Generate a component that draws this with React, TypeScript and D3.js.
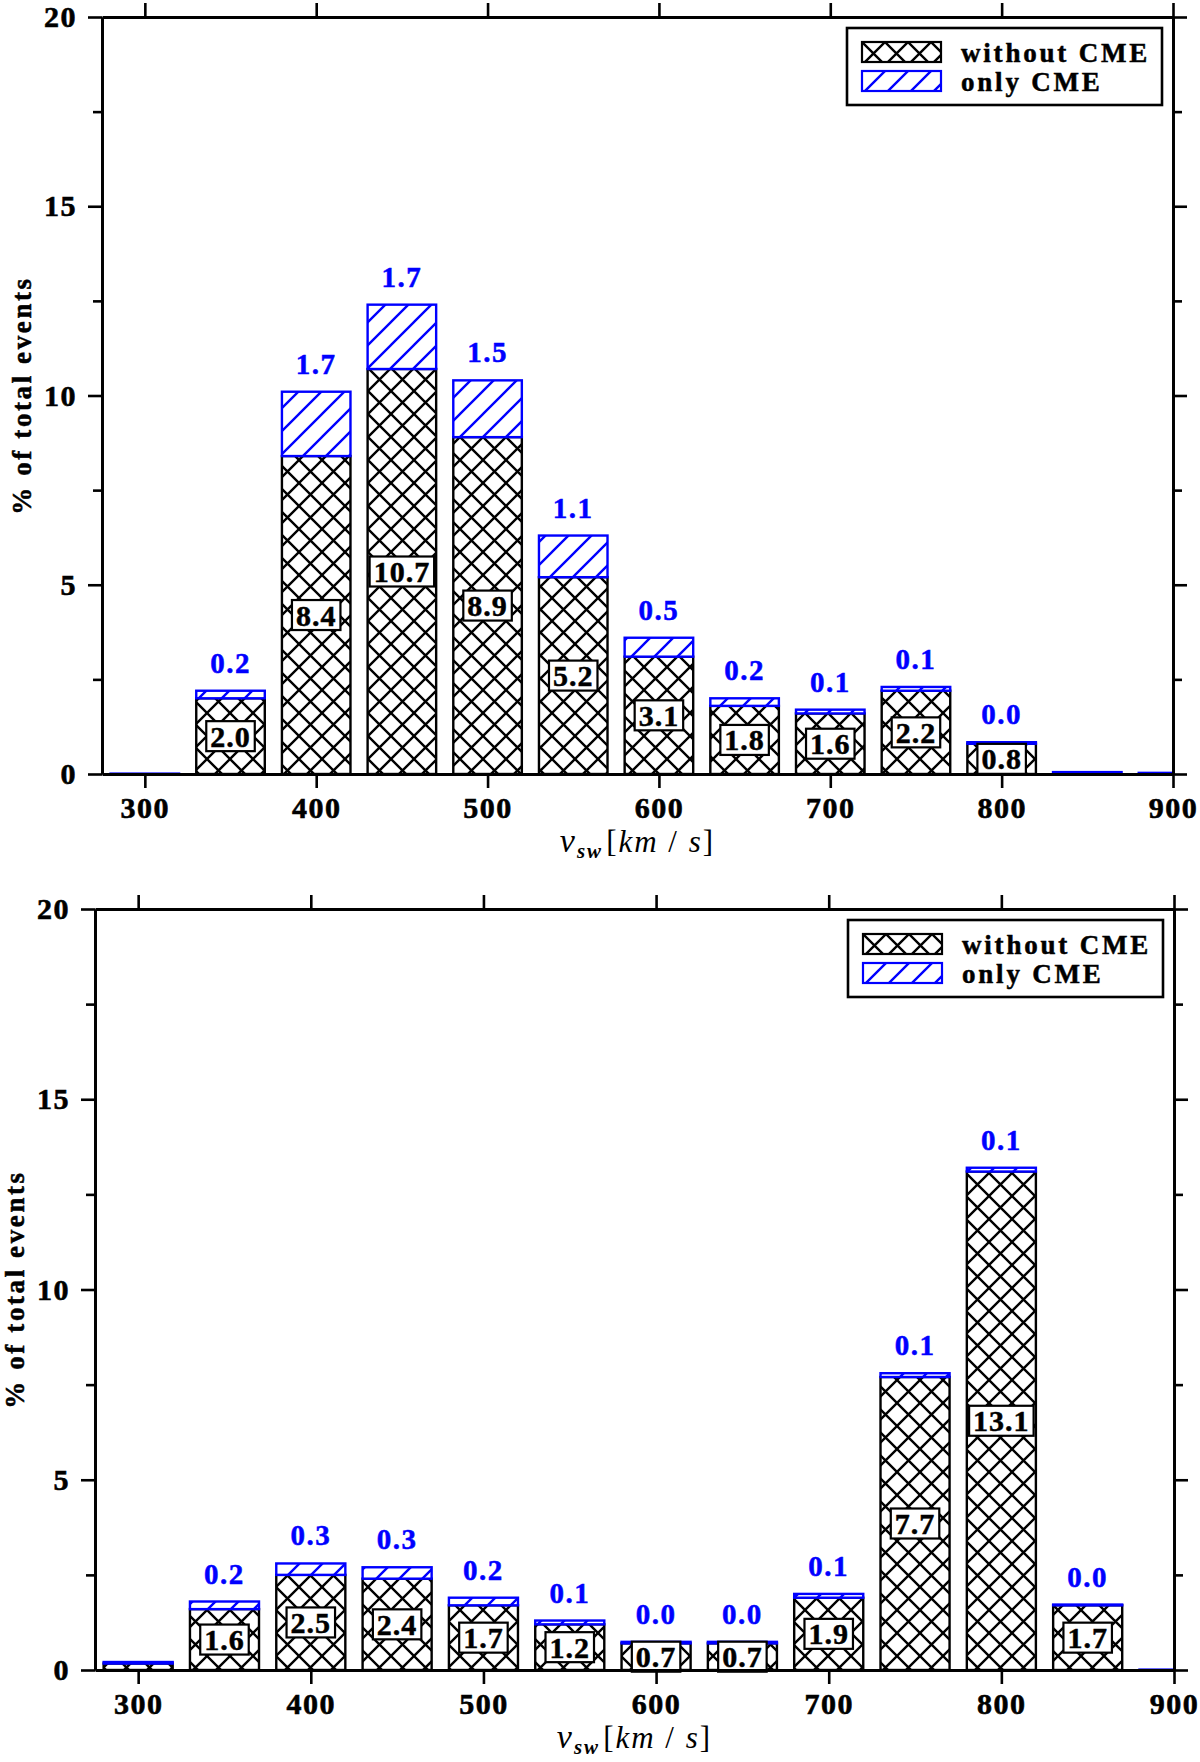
import React, { useRef, useEffect } from "react";
import * as d3 from "d3";

// bin centres of the solar wind speed histogram (km/s), bins are 50 wide, bars 40 wide
const binCenters = [300, 350, 400, 450, 500, 550, 600, 650, 700, 750, 800, 850, 900];

// upper panel (% of total events)
const upperWithoutCme = [0, 2.0, 8.4, 10.7, 8.9, 5.2, 3.1, 1.8, 1.6, 2.2, 0.8, 0, 0];
const upperOnlyCme = [0.01, 0.2, 1.7, 1.7, 1.5, 1.1, 0.5, 0.2, 0.1, 0.1, 0.04, 0.05, 0.03];

// lower panel (% of total events)
const lowerWithoutCme = [0.17, 1.6, 2.5, 2.4, 1.7, 1.2, 0.7, 0.7, 1.9, 7.7, 13.1, 1.7, 0];
const lowerOnlyCme = [0.04, 0.2, 0.3, 0.3, 0.2, 0.1, 0.04, 0.04, 0.1, 0.1, 0.1, 0.02, 0.01];

const xTicks = [300, 400, 500, 600, 700, 800, 900];
const yMajorTicks = [0, 5, 10, 15, 20];
const yMinorTicks = [2.5, 7.5, 12.5, 17.5];
const legendLabels = ["without CME", "only CME"];

const FONT = "'Liberation Serif', 'Times New Roman', serif";
const BLUE = "#0000ff";

const panels = [
  { id: "upper", without: upperWithoutCme, only: upperOnlyCme, frame: { left: 102, right: 1173, top: 17, bottom: 774 } },
  { id: "lower", without: lowerWithoutCme, only: lowerOnlyCme, frame: { left: 95, right: 1174, top: 909, bottom: 1670 } },
];

export default function App() {
  const svgRef = useRef(null);

  useEffect(() => {
    document.body.style.margin = "0";
    const svg = d3.select(svgRef.current);
    svg.selectAll("*").remove();

    // hatch patterns
    const defs = svg.append("defs");
    const cs = 23;
    const cross = defs
      .append("pattern")
      .attr("id", "crossHatch")
      .attr("patternUnits", "userSpaceOnUse")
      .attr("width", cs)
      .attr("height", cs);
    cross.append("rect").attr("width", cs).attr("height", cs).attr("fill", "#fff");
    cross
      .append("path")
      .attr("d", `M0,0L${cs},${cs}M${cs},0L0,${cs}`)
      .attr("stroke", "#000")
      .attr("stroke-width", 2.4);

    const ds = 23;
    const diag = defs
      .append("pattern")
      .attr("id", "diagHatch")
      .attr("patternUnits", "userSpaceOnUse")
      .attr("width", ds)
      .attr("height", ds);
    diag.append("rect").attr("width", ds).attr("height", ds).attr("fill", "#fff");
    diag
      .append("path")
      .attr(
        "d",
        `M0,${ds}L${ds},0M${-ds / 4},${ds / 4}L${ds / 4},${-ds / 4}M${(3 * ds) / 4},${(5 * ds) / 4}L${(5 * ds) / 4},${(3 * ds) / 4}`
      )
      .attr("stroke", BLUE)
      .attr("stroke-width", 2.4);

    panels.forEach((p) => {
      const f = p.frame;
      const x = d3.scaleLinear().domain([275, 900]).range([f.left, f.right]);
      const y = d3.scaleLinear().domain([0, 20]).range([f.bottom, f.top]);

      const clipId = `clip-${p.id}`;
      defs
        .append("clipPath")
        .attr("id", clipId)
        .append("rect")
        .attr("x", f.left)
        .attr("y", f.top)
        .attr("width", f.right - f.left)
        .attr("height", f.bottom - f.top);

      const g = svg.append("g");
      const bars = g.append("g").attr("clip-path", `url(#${clipId})`);

      binCenters.forEach((c, i) => {
        const w = p.without[i];
        const o = p.only[i];
        const x0 = x(c - 20);
        const x1 = x(c + 20);
        if (w > 0) {
          bars
            .append("rect")
            .attr("x", x0)
            .attr("y", y(w))
            .attr("width", x1 - x0)
            .attr("height", y(0) - y(w))
            .attr("fill", "url(#crossHatch)")
            .attr("stroke", "#000")
            .attr("stroke-width", 2.4);
        }
        bars
          .append("rect")
          .attr("x", x0)
          .attr("y", y(w + o))
          .attr("width", x1 - x0)
          .attr("height", y(w) - y(w + o))
          .attr("fill", "url(#diagHatch)")
          .attr("stroke", BLUE)
          .attr("stroke-width", 2.4);
      });

      // value labels
      binCenters.forEach((c, i) => {
        const w = p.without[i];
        const o = p.only[i];
        if (w < 0.5) return;
        const lg = g.append("g");
        const t = lg
          .append("text")
          .attr("x", x(c))
          .attr("y", y(w / 2))
          .attr("dy", "0.35em")
          .attr("text-anchor", "middle")
          .attr("font-family", FONT)
          .attr("font-weight", "bold")
          .attr("font-size", 30)
          .attr("letter-spacing", 1)
          .attr("fill", "#000")
          .attr("stroke", "#000")
          .attr("stroke-width", 0.5)
          .text(w.toFixed(1));
        const bb = (t.node() as SVGTextElement).getBBox();
        lg.insert("rect", "text")
          .attr("x", x(c) - bb.width / 2 - 4)
          .attr("y", y(w / 2) - 15)
          .attr("width", bb.width + 8)
          .attr("height", 30)
          .attr("fill", "#fff")
          .attr("stroke", "#000")
          .attr("stroke-width", 2.2);

        g.append("text")
          .attr("x", x(c))
          .attr("y", y(w + o) - 18)
          .attr("text-anchor", "middle")
          .attr("font-family", FONT)
          .attr("font-weight", "bold")
          .attr("font-size", 29)
          .attr("letter-spacing", 1.5)
          .attr("fill", BLUE)
          .attr("stroke", BLUE)
          .attr("stroke-width", 0.5)
          .text(o.toFixed(1));
      });

      // axes
      const styleAxis = (sel) => {
        sel.select(".domain").attr("stroke", "#000").attr("stroke-width", 2.8);
        sel.selectAll(".tick line").attr("stroke", "#000").attr("stroke-width", 2.6);
        sel
          .selectAll(".tick text")
          .attr("fill", "#000")
          .attr("stroke", "#000")
          .attr("stroke-width", 0.6)
          .attr("font-family", FONT)
          .attr("font-weight", "bold")
          .attr("font-size", 30)
          .attr("letter-spacing", 1.5);
      };

      g.append("g")
        .attr("transform", `translate(0,${f.bottom})`)
        .call(d3.axisBottom(x).tickValues(xTicks).tickSize(14).tickSizeOuter(0).tickPadding(9).tickFormat(d3.format("d")))
        .call(styleAxis);
      g.append("g")
        .attr("transform", `translate(0,${f.top})`)
        .call(d3.axisTop(x).tickValues(xTicks).tickSize(14).tickSizeOuter(0).tickFormat(() => ""))
        .call(styleAxis);
      g.append("g")
        .attr("transform", `translate(${f.left},0)`)
        .call(d3.axisLeft(y).tickValues(yMajorTicks).tickSize(14).tickSizeOuter(0).tickPadding(11).tickFormat(d3.format("d")))
        .call(styleAxis);
      g.append("g")
        .attr("transform", `translate(${f.left},0)`)
        .call(d3.axisLeft(y).tickValues(yMinorTicks).tickSize(9).tickSizeOuter(0).tickFormat(() => ""))
        .call(styleAxis);
      g.append("g")
        .attr("transform", `translate(${f.right},0)`)
        .call(d3.axisRight(y).tickValues(yMajorTicks).tickSize(14).tickSizeOuter(0).tickFormat(() => ""))
        .call(styleAxis);
      g.append("g")
        .attr("transform", `translate(${f.right},0)`)
        .call(d3.axisRight(y).tickValues(yMinorTicks).tickSize(9).tickSizeOuter(0).tickFormat(() => ""))
        .call(styleAxis);

      // y axis title
      g.append("text")
        .attr("transform", `translate(${f.left - 80},${(f.top + f.bottom) / 2}) rotate(-90)`)
        .attr("text-anchor", "middle")
        .attr("dy", "0.35em")
        .attr("font-family", FONT)
        .attr("font-weight", "bold")
        .attr("font-size", 27)
        .attr("letter-spacing", 2.6)
        .attr("stroke", "#000")
        .attr("stroke-width", 0.5)
        .text("% of total events");

      // x axis title  v_sw [km / s]
      const xt = g
        .append("text")
        .attr("x", (f.left + f.right) / 2)
        .attr("y", f.bottom + 78)
        .attr("text-anchor", "middle")
        .attr("font-family", FONT)
        .attr("font-size", 31)
        .attr("letter-spacing", 2);
      xt.append("tspan").attr("font-style", "italic").attr("font-size", 34).text("v");
      xt.append("tspan").attr("font-style", "italic").attr("font-size", 21).attr("font-weight", "bold").attr("dy", 6).text("sw");
      xt.append("tspan").attr("dy", -6).attr("dx", 3).text("[");
      xt.append("tspan").attr("font-style", "italic").text("km");
      xt.append("tspan").text(" / ");
      xt.append("tspan").attr("font-style", "italic").text("s");
      xt.append("tspan").text("]");

      // legend
      const lw = 315;
      const lh = 77;
      const legend = g.append("g").attr("transform", `translate(${f.right - 11 - lw},${f.top + 11})`);
      legend
        .append("rect")
        .attr("width", lw)
        .attr("height", lh)
        .attr("fill", "#fff")
        .attr("stroke", "#000")
        .attr("stroke-width", 2.6);
      const items = legend
        .selectAll("g.item")
        .data(legendLabels)
        .join("g")
        .attr("class", "item")
        .attr("transform", (d, i) => `translate(15,${14 + i * 29})`);
      items
        .append("rect")
        .attr("width", 79)
        .attr("height", 20)
        .attr("fill", (d, i) => (i === 0 ? "url(#crossHatch)" : "url(#diagHatch)"))
        .attr("stroke", (d, i) => (i === 0 ? "#000" : BLUE))
        .attr("stroke-width", 2.2);
      items
        .append("text")
        .attr("x", 99)
        .attr("y", 20)
        .attr("font-family", FONT)
        .attr("font-weight", "bold")
        .attr("font-size", 27)
        .attr("letter-spacing", 2.8)
        .attr("fill", "#000")
        .attr("stroke", "#000")
        .attr("stroke-width", 0.5)
        .text((d) => d);
    });
  }, []);

  return <svg ref={svgRef} width={1200} height={1762} style={{ display: "block", background: "#fff" }}></svg>;
}
